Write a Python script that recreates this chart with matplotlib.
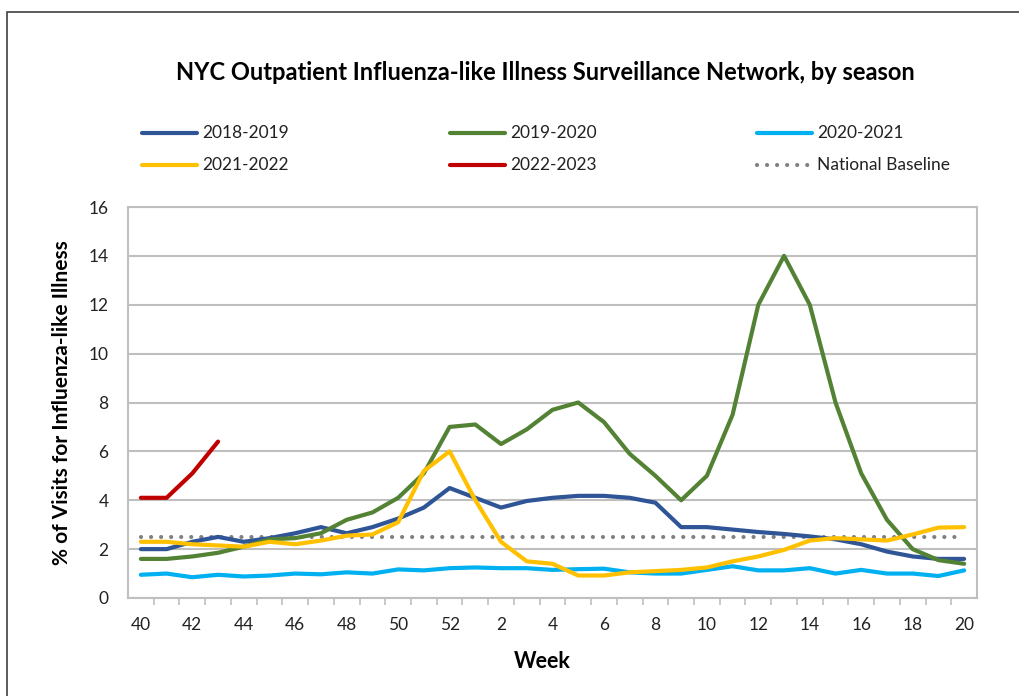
import matplotlib
matplotlib.use("Agg")
import matplotlib.pyplot as plt
from matplotlib.lines import Line2D
from matplotlib.patches import Rectangle

plt.rcParams['font.family'] = ['Lato', 'DejaVu Sans']

weeks = [40, 41, 42, 43, 44, 45, 46, 47, 48, 49, 50, 51, 52,
         1, 2, 3, 4, 5, 6, 7, 8, 9, 10, 11, 12, 13, 14, 15, 16, 17, 18, 19, 20]

s2018 = [2.0, 2.0, 2.3, 2.5, 2.3, 2.45, 2.65, 2.9, 2.65, 2.9, 3.25, 3.7, 4.5,
         4.1, 3.7, 3.97, 4.1, 4.18, 4.18, 4.1, 3.9, 2.9, 2.9,
         2.8, 2.7, 2.62, 2.52, 2.4, 2.2, 1.9, 1.7, 1.6, 1.6]
s2019 = [1.6, 1.6, 1.7, 1.85, 2.1, 2.4, 2.45, 2.65, 3.2, 3.5, 4.1, 5.1, 7.0,
         7.1, 6.3, 6.9, 7.7, 8.0, 7.2, 5.9, 5.0, 4.0, 5.0,
         7.5, 12.0, 14.0, 12.0, 8.0, 5.1, 3.2, 2.0, 1.55, 1.4]
s2020 = [0.95, 1.0, 0.85, 0.95, 0.88, 0.92, 1.0, 0.97, 1.05, 1.0, 1.17, 1.13, 1.22,
         1.25, 1.22, 1.22, 1.15, 1.18, 1.2, 1.05, 1.0, 1.0, 1.15,
         1.3, 1.13, 1.13, 1.22, 1.0, 1.15, 1.0, 1.0, 0.9, 1.13]
s2021 = [2.3, 2.3, 2.2, 2.15, 2.1, 2.3, 2.2, 2.35, 2.55, 2.6, 3.1, 5.2, 6.0,
         4.0, 2.3, 1.5, 1.4, 0.92, 0.92, 1.05, 1.1, 1.15, 1.25,
         1.5, 1.7, 1.97, 2.35, 2.45, 2.4, 2.35, 2.6, 2.88, 2.9]
s2022 = [4.1, 4.1, 5.1, 6.4]
baseline = 2.5

series = [
    ("2018-2019", s2018, "#2F5597"),
    ("2019-2020", s2019, "#548235"),
    ("2020-2021", s2020, "#00B0F0"),
    ("2021-2022", s2021, "#FFC000"),
    ("2022-2023", s2022, "#C00000"),
]
grid_col = "#BFBFBF"
base_col = "#808080"
dots = (0, (0.01, 2.4))

fig = plt.figure(figsize=(10.2, 6.96), dpi=100)
ax = fig.add_axes([128 / 1020, 1 - 598 / 696, 849 / 1020, 391 / 696])

# outer chart border
fig.add_artist(Rectangle((7 / 1020, -0.05), 1.2, 1 - 12 / 696 + 0.05,
                         transform=fig.transFigure, fill=False,
                         edgecolor="#404040", linewidth=1.2))

x = list(range(len(weeks)))
entries = []
for label, vals, col in series:
    ax.plot(x[:len(vals)], vals, color=col, lw=3, solid_capstyle="round",
            solid_joinstyle="round", zorder=3)
    entries.append((label, col, "-"))
ax.plot(x, [baseline] * len(x), color=base_col, lw=3, linestyle=dots,
        dash_capstyle="round", zorder=2)
entries.append(("National Baseline", base_col, dots))

ax.set_xlim(-0.5, len(weeks) - 0.5)
ax.set_ylim(0, 16)
ax.set_yticks(range(0, 17, 2))
ax.set_xticks(x[::2])
ax.set_xticklabels([str(w) for w in weeks[::2]])
ax.set_xticks([i + 0.5 for i in x[:-1]], minor=True)
ax.tick_params(axis="x", which="major", length=0, pad=14, labelsize=12.5, colors="#222222")
ax.tick_params(axis="x", which="minor", length=5, width=1.2, color=grid_col)
ax.tick_params(axis="y", length=0, pad=14, labelsize=12.5, colors="#222222")
ax.yaxis.grid(True, color=grid_col, lw=1.5)
ax.set_axisbelow(True)
for sp in ax.spines.values():
    sp.set_color(grid_col)
    sp.set_linewidth(1.5)

ax.set_xlabel("Week", fontsize=15.5, fontweight="bold")
ax.xaxis.set_label_coords((542 - 128) / 849, -(662 - 598) / 391)
ax.xaxis.label.set_va("center")
ax.set_ylabel("% of Visits for Influenza-like Illness", fontsize=15,
              fontweight="bold", labelpad=12)

fig.text(545 / 1020, 1 - 73 / 696,
         "NYC Outpatient Influenza-like Illness Surveillance Network, by season",
         ha="center", va="center", fontsize=17, fontweight="bold")

# legend, laid out by hand in two rows of three
leg_x = [142, 450, 757]
leg_y = [133, 165]
for i, (label, col, ls) in enumerate(entries):
    cx = leg_x[i % 3]
    cy = 1 - leg_y[i // 3] / 696
    fig.add_artist(Line2D([cx / 1020, (cx + 55) / 1020], [cy, cy],
                          transform=fig.transFigure, color=col, lw=3,
                          linestyle=ls, solid_capstyle="round",
                          dash_capstyle="round"))
    fig.text((cx + 60) / 1020, cy, label, ha="left", va="center",
             fontsize=12.5, color="#222222")

fig.savefig("out.png", dpi=100)
